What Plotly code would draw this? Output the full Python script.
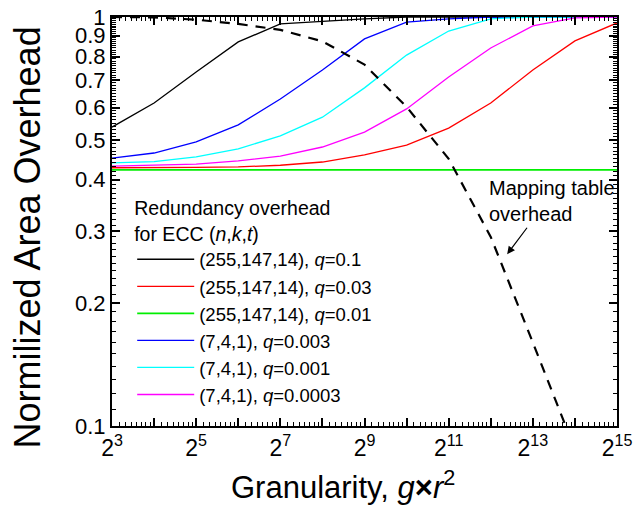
import plotly.graph_objects as go
import numpy as np

# Exponents of granularity g x r^2 (2^n)
exponents = [3, 4, 5, 6, 7, 8, 9, 10, 11, 12, 13, 14, 15]

series_names = [
    "(255,147,14), <i>q</i>=0.1",
    "(255,147,14), <i>q</i>=0.03",
    "(255,147,14), <i>q</i>=0.01",
    "(7,4,1), <i>q</i>=0.003",
    "(7,4,1), <i>q</i>=0.001",
    "(7,4,1), <i>q</i>=0.0003",
]
series_colors = ["#000000", "#ff0000", "#00ee00", "#0000ff", "#00ffff", "#ff00ff"]

ecc_q01 = [0.538, 0.616, 0.734, 0.869, 0.962, 0.976, 0.99, 1.0, 1.0, 1.0, 1.0, 1.0, 1.0]
ecc_q003 = [0.428, 0.428, 0.429, 0.430, 0.434, 0.442, 0.460, 0.486, 0.535, 0.616, 0.742, 0.874, 0.967]
ecc_q001 = [0.423] * 13
hamming_q0003 = [0.452, 0.465, 0.495, 0.545, 0.630, 0.742, 0.884, 0.972, 0.99, 1.0, 1.0, 1.0, 1.0]
hamming_q0001 = [0.440, 0.443, 0.455, 0.476, 0.512, 0.569, 0.671, 0.807, 0.924, 0.99, 1.0, 1.0, 1.0]
hamming_q00003 = [0.432, 0.434, 0.437, 0.445, 0.457, 0.481, 0.523, 0.596, 0.713, 0.840, 0.951, 0.995, 1.0]
series_values = [ecc_q01, ecc_q003, ecc_q001, hamming_q0003, hamming_q0001, hamming_q00003]

mapping_table = [1.0, 0.998, 0.985, 0.962, 0.930, 0.872, 0.765, 0.603, 0.450, 0.290, 0.160, 0.088, 0.048]

y_tick_vals = [0.1, 0.2, 0.3, 0.4, 0.5, 0.6, 0.7, 0.8, 0.9, 1.0]
y_tick_text = ["0.1", "0.2", "0.3", "0.4", "0.5", "0.6", "0.7", "0.8", "0.9", "1"]

x_tick_vals = list(range(3, 16))
x_tick_text = [f"2<sup>{n}</sup>" if n % 2 == 1 else " " for n in x_tick_vals]

y_minor = [round(v, 2) for v in np.arange(0.11, 1.0, 0.01) if round(v, 2) not in y_tick_vals]
x_minor = [n + np.log2(k / 8) for n in range(3, 15) for k in range(9, 16)]

fig = go.Figure()
for name, color, vals in zip(series_names, series_colors, series_values):
    fig.add_trace(go.Scatter(x=exponents, y=vals, mode="lines", name=name,
                             line=dict(color=color, width=1.3 if color != "#00ee00" else 1.8)))

fig.add_trace(go.Scatter(x=exponents, y=mapping_table, mode="lines", showlegend=False,
                         line=dict(color="black", width=2.2, dash="10px,8px")))

font_family = "Liberation Sans, Arial, sans-serif"

fig.update_layout(
    width=633, height=525,
    margin=dict(l=112, r=16, t=17, b=99),
    paper_bgcolor="white", plot_bgcolor="white",
    font=dict(family=font_family, color="black"),
    showlegend=True,
    legend=dict(
        x=0.04, y=0.577, xanchor="left", yanchor="top",
        bgcolor="rgba(0,0,0,0)", borderwidth=0,
        font=dict(size=18.5, family=font_family, color="black"),
        title=dict(text="Redundancy overhead<br>for ECC (<i>n</i>,<i>k</i>,<i>t</i>)",
                   font=dict(size=19.5, family=font_family, color="black")),
        itemwidth=57, tracegroupgap=0,
    ),
    xaxis=dict(
        range=[3, 15], tickmode="array", tickvals=x_tick_vals, ticktext=x_tick_text,
        ticks="inside", ticklen=8, tickwidth=2, tickcolor="black",
        showline=True, linewidth=2, linecolor="black", mirror="ticks",
        showgrid=False, zeroline=False, automargin=False,
        tickfont=dict(size=23, family=font_family, color="black"),
        minor=dict(tickmode="array", tickvals=x_minor, ticks="inside", ticklen=4,
                   tickwidth=1.2, tickcolor="black", showgrid=False),
    ),
    yaxis=dict(
        type="log", range=[-1, 0], tickmode="array", tickvals=y_tick_vals, ticktext=y_tick_text,
        ticks="inside", ticklen=8, tickwidth=2, tickcolor="black",
        showline=True, linewidth=2, linecolor="black", mirror="ticks",
        showgrid=False, zeroline=False, automargin=False,
        tickfont=dict(size=22, family=font_family, color="black"),
        minor=dict(tickmode="array", tickvals=y_minor, ticks="inside", ticklen=4,
                   tickwidth=1.2, tickcolor="black", showgrid=False),
    ),
)

# Axis titles (placed as annotations to match the reference's off-centre placement)
fig.add_annotation(x=0.457, y=-0.144, xref="paper", yref="paper", showarrow=False,
                   text="Granularity, <i>g</i><b>×</b><i>r</i><sup>2</sup>",
                   xanchor="center", yanchor="middle",
                   font=dict(size=31, family=font_family, color="black"))
fig.add_annotation(x=-0.167, y=0.46, xref="paper", yref="paper", showarrow=False,
                   text="Normilized Area Overhead", textangle=-90,
                   xanchor="center", yanchor="middle",
                   font=dict(size=36, family=font_family, color="black"))

# Label for mapping-table curve with arrow
fig.add_annotation(x=11.91, y=-0.45, xref="x", yref="y",
                   text="Mapping table<br>overhead", showarrow=False, align="left",
                   xanchor="left", yanchor="middle",
                   font=dict(size=20, family=font_family, color="black"))
fig.add_annotation(x=12.39, y=np.log10(0.263), xref="x", yref="y", text="",
                   showarrow=True, arrowhead=2, arrowsize=1.3, arrowwidth=1.2,
                   arrowcolor="black", ax=21, ay=-28)

fig.write_html("out.html")
